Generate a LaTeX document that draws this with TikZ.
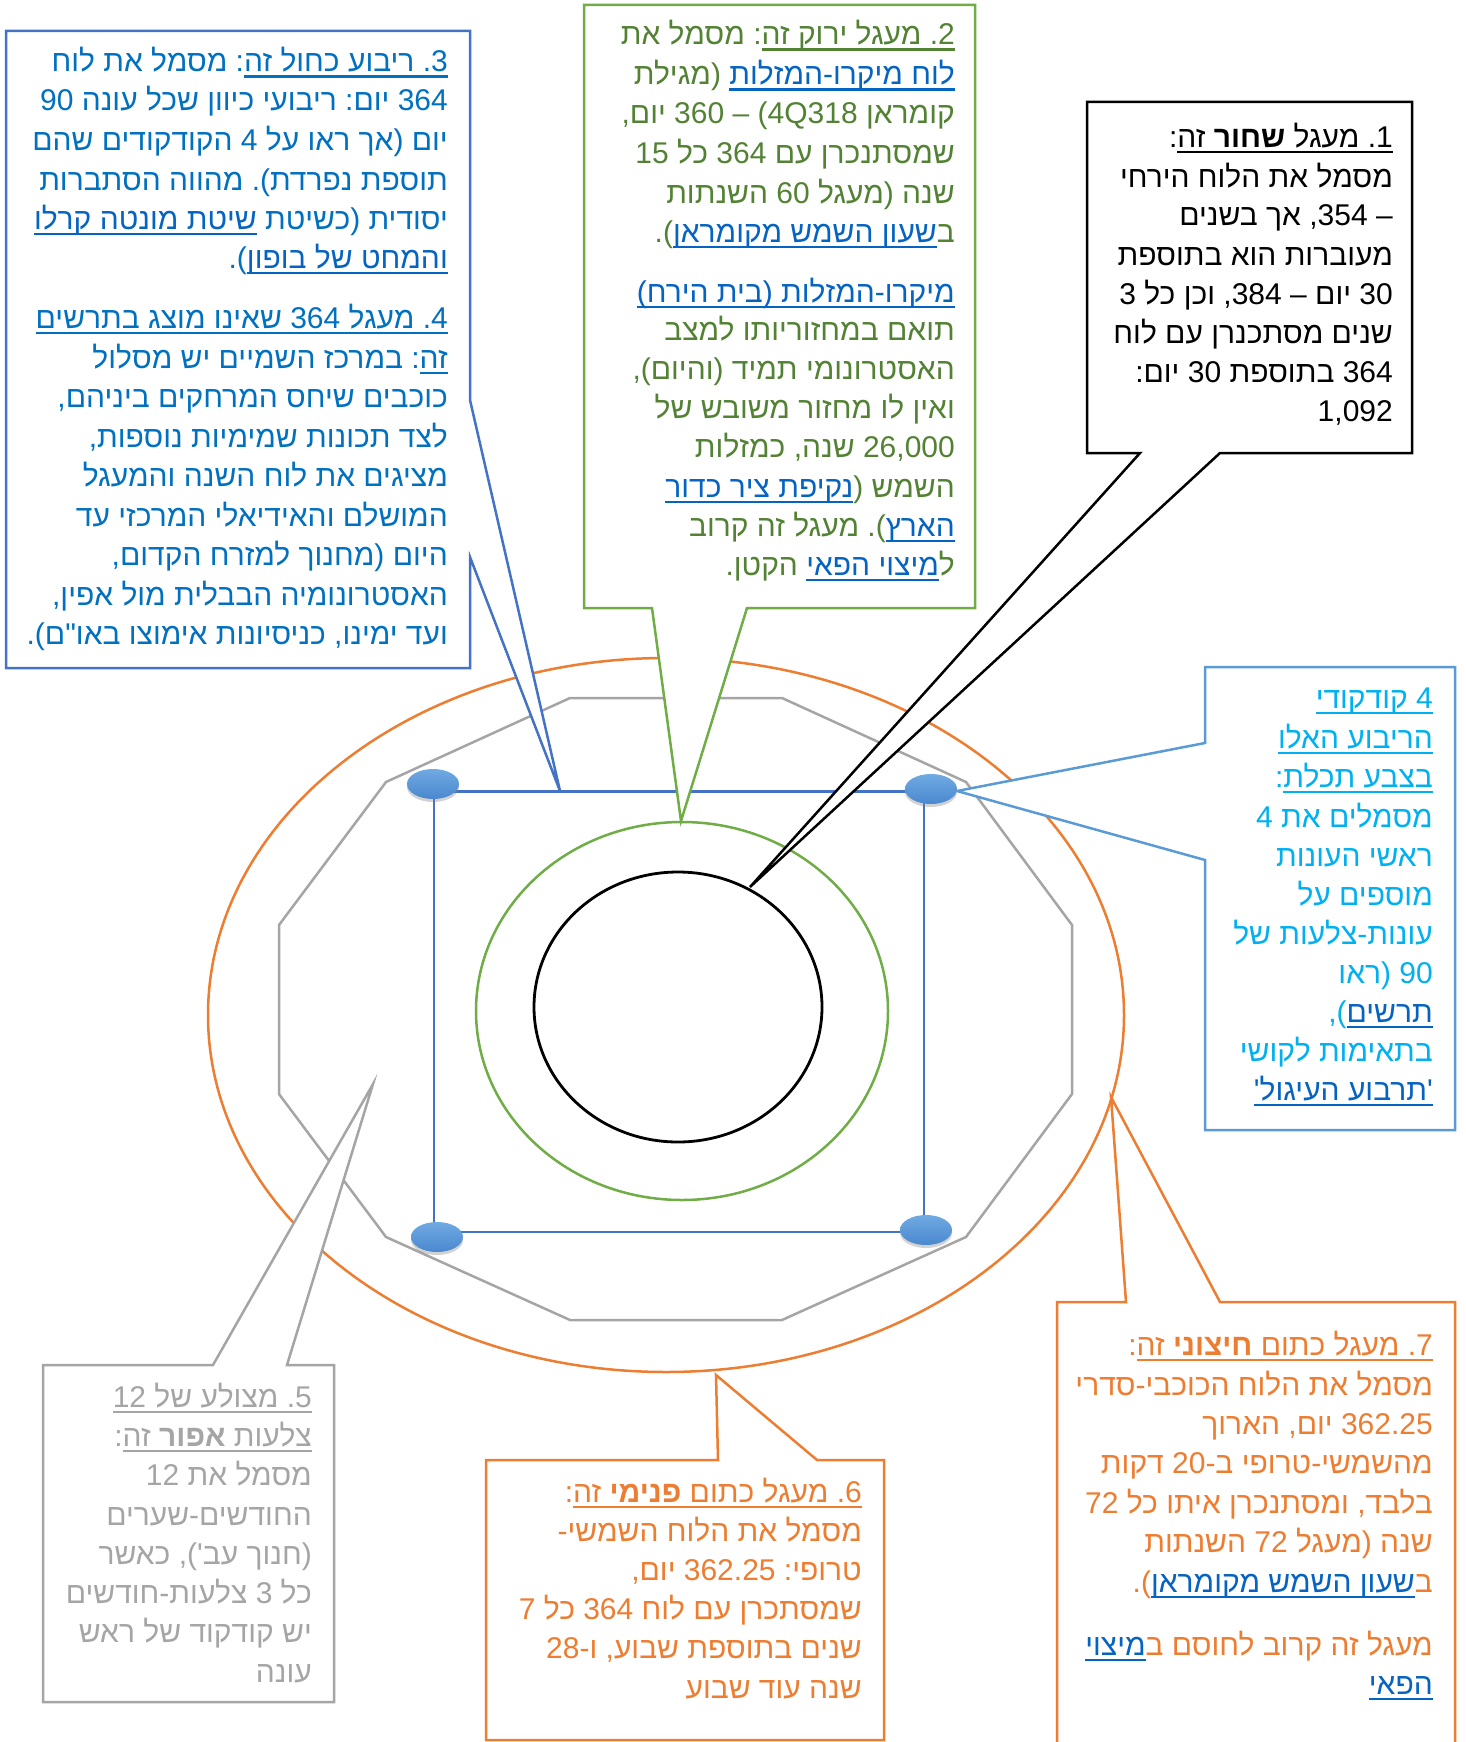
\documentclass[tikz,border=0pt]{standalone}
\usepackage{fontspec}
\newfontfamily\hebf[Script=Hebrew]{Liberation Sans}
\newfontfamily\hebl[Script=Hebrew,Color=0563C1]{Liberation Sans}
\TeXXeTstate=1
\frenchspacing
\usetikzlibrary{shadows}
\definecolor{cblue}{HTML}{0070C0}
\definecolor{clink}{HTML}{0563C1}
\definecolor{cgreen}{HTML}{548235}
\definecolor{ccyan}{HTML}{00B0F0}
\definecolor{corange}{HTML}{ED7D31}
\definecolor{cgray}{HTML}{A5A5A5}
\definecolor{lblue}{HTML}{4472C4}
\definecolor{lgreen}{HTML}{70AD47}
\definecolor{lsky}{HTML}{5B9BD5}
\definecolor{dottop}{HTML}{70AAE2}
\definecolor{dotbot}{HTML}{4A88CF}
% underline in the current text colour
\newcommand\ulx[1]{\hbox{{\setbox0=\hbox{\beginR#1\endR}\dp0=0pt\vtop{\box0\kern3.5pt\hrule height 2.2pt}}}}
% hyperlink: colour from the font, underline rule coloured inside the vertical list
\newcommand\lnk[1]{\hbox{{\setbox0=\hbox{\hebl\beginR#1\endR}\dp0=0pt\vtop{\box0\kern3.5pt{\color{clink}\hrule height 2.2pt}}}}}
\begin{document}
\begin{tikzpicture}[x=1pt,y=-1pt,
  tl/.style={anchor=base east, inner sep=0pt, font=\hebf\fontsize{30}{39}\selectfont\frenchspacing},
  t3/.style={tl, text=cblue},
  t2/.style={tl, text=cgreen},
  t1/.style={tl, text=black},
  t4/.style={tl, text=ccyan},
  t7/.style={tl, text=corange},
  t5/.style={tl, text=cgray},
  callout/.style={line width=2.5pt, fill=white, line join=miter},
  shapeline/.style={line width=2.5pt},
  dot/.style={top color=dottop, bottom color=dotbot, draw=none,
    drop shadow={shadow xshift=0pt, shadow yshift=-3pt, opacity=0.35}}]
\useasboundingbox (0,0) rectangle (1466,1742);
\fill[white] (0,0) rectangle (1466,1742);

% central shapes
\draw[shapeline, draw=corange] (666,1015) ellipse [x radius=458, y radius=357];
\draw[shapeline, draw=cgray] (570,698) -- (782,698) -- (966,782) -- (1072,925) -- (1072,1094) -- (966,1237) -- (782,1320) -- (570,1320) -- (386,1237) -- (279,1094) -- (279,925) -- (386,782) -- cycle;
\draw[shapeline, draw=lblue] (434,791.5) -- (931,791.5);
\draw[shapeline, draw=lblue] (434,784) -- (434,1237);
\draw[shapeline, draw=lblue] (924,789) -- (924,1230);
\draw[shapeline, draw=lblue] (437,1232) -- (926,1232);
\draw[shapeline, draw=lgreen] (682,1011) ellipse [x radius=206, y radius=189];
\draw[line width=2.8pt, draw=black] (678,1007) ellipse [x radius=144, y radius=135];
\path[dot] (433,784) ellipse [x radius=26, y radius=15];
\path[dot] (931,789) ellipse [x radius=26, y radius=15];
\path[dot] (437,1237) ellipse [x radius=26, y radius=15];
\path[dot] (926,1230) ellipse [x radius=26, y radius=15];

% callouts
\draw[callout, draw=lblue] (6,31) -- (470,31) -- (470,400) -- (560,791) -- (470,557) -- (470,668) -- (6,668) -- cycle;
\draw[callout, draw=lgreen] (584,5) -- (975,5) -- (975,608) -- (747,608) -- (681,821) -- (652,608) -- (584,608) -- cycle;
\draw[callout, draw=black] (1087,102) -- (1412,102) -- (1412,453) -- (1220,453) -- (750,887) -- (1140,453) -- (1087,453) -- cycle;
\draw[callout, draw=lsky] (1205,667) -- (1455,667) -- (1455,1130) -- (1205,1130) -- (1205,860) -- (957,791) -- (1205,743) -- cycle;
\draw[callout, draw=corange] (1057,1302) -- (1126,1302) -- (1111,1097) -- (1220,1302) -- (1455,1302) -- (1455,1770) -- (1057,1770) -- cycle;
\draw[callout, draw=corange] (486,1460) -- (718,1460) -- (716,1375) -- (817,1460) -- (884,1460) -- (884,1740) -- (486,1740) -- cycle;
\draw[callout, draw=cgray] (43,1365) -- (213,1365) -- (373,1084) -- (287,1365) -- (334,1365) -- (334,1702) -- (43,1702) -- cycle;

% box 3
\node[t3] (b3a) at (448,72) {\beginR\ulx{3\kern0pt. ריבוע כחול זה}: מסמל את לוח\endR};
\node[t3] (b3b) at (448,111) {\beginR 364 יום: ריבועי כיוון שכל עונה 90\endR};
\node[t3] (b3c) at (448,150) {\beginR יום (אך ראו על 4 הקודקודים שהם\endR};
\node[t3] (b3d) at (448,190) {\beginR תוספת נפרדת). מהווה הסתברות\endR};
\node[t3] (b3e) at (448,229) {\beginR יסודית (כשיטת \lnk{שיטת מונטה קרלו}\endR};
\node[t3] (b3f) at (448,268) {\beginR\lnk{והמחט של בופון}).\endR};
\node[t3] (b3g) at (448,328) {\beginR\ulx{4\kern0pt. מעגל 364 שאינו מוצג בתרשים}\endR};
\node[t3] (b3h) at (448,368) {\beginR\ulx{זה}: במרכז השמיים יש מסלול\endR};
\node[t3] (b3i) at (448,407) {\beginR כוכבים שיחס המרחקים ביניהם,\endR};
\node[t3] (b3j) at (448,447) {\beginR לצד תכונות שמימיות נוספות,\endR};
\node[t3] (b3k) at (448,486) {\beginR מציגים את לוח השנה והמעגל\endR};
\node[t3] (b3l) at (448,526) {\beginR המושלם והאידיאלי המרכזי עד\endR};
\node[t3] (b3m) at (448,565) {\beginR היום (מחנוך למזרח הקדום,\endR};
\node[t3] (b3n) at (448,605) {\beginR האסטרונומיה הבבלית מול אפין,\endR};
\node[t3] (b3o) at (448,644) {\beginR ועד ימינו, כניסיונות אימוצו באו"ם).\endR};

% box 2
\node[t2] (b2a) at (955,45) {\beginR\ulx{2\kern0pt. מעגל ירוק זה}: מסמל את\endR};
\node[t2] (b2b) at (955,85) {\beginR\lnk{לוח מיקרו-המזלות} (מגילת\endR};
\node[t2] (b2c) at (955,124) {\beginR קומראן 4Q318\kern0pt) – 360 יום,\endR};
\node[t2] (b2d) at (955,163) {\beginR שמסתנכרן עם 364 כל 15\endR};
\node[t2] (b2e) at (955,203) {\beginR שנה (מעגל 60 השנתות\endR};
\node[t2] (b2f) at (955,242) {\beginR ב\lnk{שעון השמש מקומראן}).\endR};
\node[t2] (b2g) at (955,302) {\beginR\lnk{מיקרו-המזלות (בית הירח)}\endR};
\node[t2] (b2h) at (955,340) {\beginR תואם במחזוריותו למצב\endR};
\node[t2] (b2i) at (955,379) {\beginR האסטרונומי תמיד (והיום),\endR};
\node[t2] (b2j) at (955,418) {\beginR ואין לו מחזור משובש של\endR};
\node[t2] (b2k) at (955,457) {\beginR 26,000 שנה, כמזלות\endR};
\node[t2] (b2l) at (955,497) {\beginR השמש (\lnk{נקיפת ציר כדור}\endR};
\node[t2] (b2m) at (955,536) {\beginR\lnk{הארץ}). מעגל זה קרוב\endR};
\node[t2] (b2n) at (955,575) {\beginR ל\lnk{מיצוי הפאי} הקטן.\endR};

% box 1
\node[t1] (b1a) at (1393,147) {\beginR\ulx{1\kern0pt. מעגל \textbf{שחור} זה}:\endR};
\node[t1] (b1b) at (1393,187) {\beginR מסמל את הלוח הירחי\endR};
\node[t1] (b1c) at (1393,225) {\beginR – 354\kern0pt, אך בשנים\endR};
\node[t1] (b1d) at (1393,265) {\beginR מעוברות הוא בתוספת\endR};
\node[t1] (b1e) at (1393,304) {\beginR 30 יום – 384\kern0pt, וכן כל 3\endR};
\node[t1] (b1f) at (1393,343) {\beginR שנים מסתכנרן עם לוח\endR};
\node[t1] (b1g) at (1393,382) {\beginR 364 בתוספת 30 יום:\endR};
\node[t1] (b1h) at (1393,421) {\beginR 1,092\endR};

% box 4 (quadrant vertices)
\node[t4] (b4a) at (1433,708) {\beginR\ulx{4 קודקודי}\endR};
\node[t4] (b4b) at (1433,748) {\beginR\ulx{הריבוע האלו}\endR};
\node[t4] (b4c) at (1433,787) {\beginR\ulx{בצבע תכלת}:\endR};
\node[t4] (b4d) at (1433,827) {\beginR מסמלים את 4\endR};
\node[t4] (b4e) at (1433,866) {\beginR ראשי העונות\endR};
\node[t4] (b4f) at (1433,905) {\beginR מוספים על\endR};
\node[t4] (b4g) at (1433,944) {\beginR עונות-צלעות של\endR};
\node[t4] (b4h) at (1433,983) {\beginR 90 (ראו\endR};
\node[t4] (b4i) at (1433,1022) {\beginR\lnk{תרשים}),\endR};
\node[t4] (b4j) at (1433,1061) {\beginR בתאימות לקושי\endR};
\node[t4] (b4k) at (1433,1100) {\beginR\lnk{'תרבוע העיגול'}\endR};

% box 7
\node[t7] (b7a) at (1433,1355) {\beginR\ulx{7\kern0pt. מעגל כתום \textbf{חיצוני} זה}:\endR};
\node[t7] (b7b) at (1433,1395) {\beginR מסמל את הלוח הכוכבי-סדרי\endR};
\node[t7] (b7c) at (1433,1434) {\beginR 362.25 יום, הארוך\endR};
\node[t7] (b7d) at (1433,1473) {\beginR מהשמשי-טרופי ב-20 דקות\endR};
\node[t7] (b7e) at (1433,1513) {\beginR בלבד, ומסתנכרן איתו כל 72\endR};
\node[t7] (b7f) at (1433,1552) {\beginR שנה (מעגל 72 השנתות\endR};
\node[t7] (b7g) at (1433,1592) {\beginR ב\lnk{שעון השמש מקומראן}).\endR};
\node[t7] (b7h) at (1433,1655) {\beginR מעגל זה קרוב לחוסם ב\lnk{מיצוי}\endR};
\node[t7] (b7i) at (1433,1694) {\beginR\lnk{הפאי}\endR};

% box 6
\node[t7] (b6a) at (862,1502) {\beginR\ulx{6\kern0pt. מעגל כתום \textbf{פנימי} זה}:\endR};
\node[t7] (b6b) at (862,1541) {\beginR מסמל את הלוח השמשי-\endR};
\node[t7] (b6c) at (862,1580) {\beginR טרופי: 362.25 יום,\endR};
\node[t7] (b6d) at (862,1619) {\beginR שמסתכרן עם לוח 364 כל 7\endR};
\node[t7] (b6e) at (862,1658) {\beginR שנים בתוספת שבוע, ו-28\endR};
\node[t7] (b6f) at (862,1698) {\beginR שנה עוד שבוע\endR};

% box 5
\node[t5] (b5a) at (312,1407) {\beginR\ulx{5\kern0pt. מצולע של 12}\endR};
\node[t5] (b5b) at (312,1446) {\beginR\ulx{צלעות \textbf{אפור} זה}:\endR};
\node[t5] (b5c) at (312,1485) {\beginR מסמל את 12\endR};
\node[t5] (b5d) at (312,1525) {\beginR החודשים-שערים\endR};
\node[t5] (b5e) at (312,1564) {\beginR (חנוך עב'), כאשר\endR};
\node[t5] (b5f) at (312,1603) {\beginR כל 3 צלעות-חודשים\endR};
\node[t5] (b5g) at (312,1642) {\beginR יש קודקוד של ראש\endR};
\node[t5] (b5h) at (312,1682) {\beginR עונה\endR};
\end{tikzpicture}
\end{document}
